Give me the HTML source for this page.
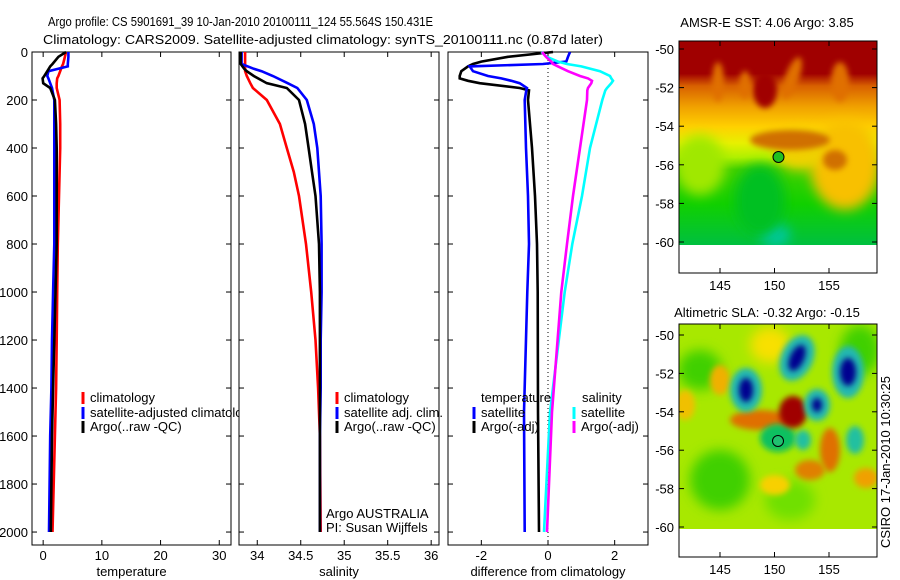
<!DOCTYPE html>
<html><head><meta charset="utf-8">
<style>
body{margin:0;background:#fff;}
svg{display:block;font-family:"Liberation Sans",sans-serif;}
text{font-size:13px;fill:#000;}
</style></head>
<body>
<svg id="c" width="900" height="580" viewBox="0 0 900 580" xmlns="http://www.w3.org/2000/svg">
<defs>
<filter id="bl" x="-50%" y="-50%" width="200%" height="200%"><feGaussianBlur stdDeviation="6"/></filter>
<filter id="bl2" x="-50%" y="-50%" width="200%" height="200%"><feGaussianBlur stdDeviation="3"/></filter>
<clipPath id="m1c"><rect x="679" y="41" width="198" height="204"/></clipPath>
<clipPath id="m2c"><rect x="679" y="324" width="198" height="205"/></clipPath>
<linearGradient id="sstg" x1="0" y1="0" x2="0" y2="1">
<stop offset="0" stop-color="#a00000"/><stop offset="0.16" stop-color="#a00000"/>
<stop offset="0.22" stop-color="#d86000"/><stop offset="0.32" stop-color="#f0a000"/>
<stop offset="0.42" stop-color="#ffd000"/><stop offset="0.5" stop-color="#e8f000"/>
<stop offset="0.57" stop-color="#b0f000"/><stop offset="0.63" stop-color="#40d000"/>
<stop offset="0.8" stop-color="#10d000"/><stop offset="1" stop-color="#00c040"/>
</linearGradient>
</defs>
<text x="48" y="26" textLength="385" lengthAdjust="spacingAndGlyphs">Argo profile: CS 5901691_39 10-Jan-2010 20100111_124 55.564S 150.431E</text>
<text x="43" y="44" textLength="560" lengthAdjust="spacingAndGlyphs">Climatology: CARS2009. Satellite-adjusted climatology: synTS_20100111.nc (0.87d later)</text>
<g id="plots"></g>
<g id="maps">
 <g clip-path="url(#m1c)">
  <rect x="679" y="41" width="198" height="204" fill="url(#sstg)"/>
  <ellipse cx="700" cy="165" rx="25" ry="30" fill="#a0e800" filter="url(#bl)"/>
  <ellipse cx="845" cy="165" rx="35" ry="45" fill="#f8c000" filter="url(#bl)"/>
  <ellipse cx="800" cy="150" rx="25" ry="20" fill="#f0d000" filter="url(#bl)"/>
  <ellipse cx="790" cy="140" rx="40" ry="10" fill="#d07000" filter="url(#bl2)"/>
  <ellipse cx="835" cy="160" rx="12" ry="10" fill="#d07000" filter="url(#bl2)"/>
  <ellipse cx="765" cy="90" rx="12" ry="18" fill="#a00000" filter="url(#bl2)"/>
  <ellipse cx="718" cy="82" rx="6" ry="20" fill="#e07000" filter="url(#bl2)"/>
  <ellipse cx="745" cy="85" rx="6" ry="14" fill="#e07000" filter="url(#bl2)"/>
  <ellipse cx="792" cy="78" rx="7" ry="22" fill="#e07000" filter="url(#bl2)" transform="rotate(20 792 78)"/>
  <ellipse cx="840" cy="82" rx="9" ry="20" fill="#e07000" filter="url(#bl2)"/>
  <ellipse cx="775" cy="235" rx="15" ry="12" fill="#00c8a0" filter="url(#bl)"/>
  <ellipse cx="760" cy="200" rx="25" ry="35" fill="#00c020" filter="url(#bl)"/>
 </g>
 <rect x="679" y="245" width="198" height="28" fill="#fff"/>
 <g clip-path="url(#m2c)">
  <rect x="679" y="324" width="198" height="205" fill="#a8e800"/>
  <ellipse cx="700" cy="370" rx="22" ry="20" fill="#40d000" filter="url(#bl)"/>
  <ellipse cx="720" cy="480" rx="30" ry="30" fill="#40d000" filter="url(#bl)"/>
  <ellipse cx="860" cy="350" rx="20" ry="25" fill="#40d000" filter="url(#bl)"/>
  <ellipse cx="790" cy="500" rx="25" ry="20" fill="#70e000" filter="url(#bl)"/>
  <ellipse cx="770" cy="345" rx="20" ry="18" fill="#f8e000" filter="url(#bl)"/>
  <ellipse cx="720" cy="380" rx="10" ry="15" fill="#f0b000" filter="url(#bl2)"/>
  <ellipse cx="685" cy="405" rx="10" ry="15" fill="#f0c000" filter="url(#bl2)"/>
  <ellipse cx="760" cy="420" rx="30" ry="10" fill="#e07000" filter="url(#bl2)"/>
  <ellipse cx="830" cy="450" rx="10" ry="22" fill="#e07000" filter="url(#bl2)"/>
  <ellipse cx="810" cy="470" rx="15" ry="10" fill="#e08000" filter="url(#bl2)"/>
  <ellipse cx="866" cy="478" rx="12" ry="10" fill="#f0a000" filter="url(#bl2)"/>
  <ellipse cx="775" cy="485" rx="15" ry="10" fill="#f8d000" filter="url(#bl2)"/>
  <ellipse cx="778" cy="438" rx="18" ry="14" fill="#10c060" filter="url(#bl2)"/>
  <ellipse cx="803" cy="440" rx="8" ry="10" fill="#20c0a0" filter="url(#bl2)"/>
  <ellipse cx="855" cy="440" rx="9" ry="14" fill="#20c0a0" filter="url(#bl2)"/>
  <ellipse cx="793" cy="412" rx="14" ry="16" fill="#a00000" filter="url(#bl2)"/>
  <ellipse cx="746" cy="390" rx="16" ry="22" fill="#20b8b0" filter="url(#bl2)"/>
  <ellipse cx="746" cy="390" rx="7" ry="12" fill="#000090" filter="url(#bl2)"/>
  <ellipse cx="797" cy="358" rx="16" ry="24" fill="#20b8b0" filter="url(#bl2)" transform="rotate(25 797 358)"/>
  <ellipse cx="797" cy="358" rx="7" ry="14" fill="#000090" filter="url(#bl2)" transform="rotate(25 797 358)"/>
  <ellipse cx="848" cy="372" rx="16" ry="26" fill="#20b8b0" filter="url(#bl2)"/>
  <ellipse cx="848" cy="372" rx="8" ry="14" fill="#000090" filter="url(#bl2)"/>
  <ellipse cx="817" cy="405" rx="13" ry="16" fill="#20b8b0" filter="url(#bl2)"/>
  <ellipse cx="817" cy="405" rx="5" ry="7" fill="#000090" filter="url(#bl2)"/>
 </g>
 <rect x="679" y="529" width="198" height="28" fill="#fff"/>
 <rect x="679" y="41" width="198" height="232" fill="none" stroke="#000"/>
 <rect x="679" y="324" width="198" height="233" fill="none" stroke="#000"/>
 <circle cx="778.5" cy="157" r="5.5" fill="#20c020" stroke="#000"/>
 <circle cx="778" cy="441" r="5.5" fill="#20c070" stroke="#000"/>
 <text x="767" y="27" text-anchor="middle">AMSR-E SST: 4.06 Argo: 3.85</text>
 <text x="767" y="317" text-anchor="middle">Altimetric SLA: -0.32 Argo: -0.15</text>
 <text transform="translate(890,548) rotate(-90)">CSIRO 17-Jan-2010 10:30:25</text>
 <g id="mapaxes"></g>
</g>
</svg>
<script>
// depth levels (m)
const tDepth = [0,20,50,60,80,100,110,130,150,200,300,400,600,800,1000,1200,1400,1600,1800,2000];
const tClim  = [3.9,3.7,3.4,3.2,2.9,2.6,2.4,2.3,2.3,2.8,2.9,2.9,2.7,2.5,2.4,2.3,2.2,2.0,1.8,1.6];
const tSat   = [4.3,4.3,4.2,4.2,0.9,0.7,0.9,1.2,1.5,1.9,1.9,1.9,1.9,1.9,1.7,1.5,1.4,1.2,1.1,1.0];
const tArgo  = [3.9,2.6,1.6,1.2,0.7,0.2,-0.1,0.0,1.2,2.0,2.2,2.3,2.3,2.3,2.1,1.9,1.7,1.5,1.4,1.3];
const sDepth = [0,50,70,80,100,130,150,200,300,400,500,600,800,1000,1200,1400,1600,2000];
const sClim  = [33.86,33.86,33.86,33.86,33.88,33.92,33.95,34.11,34.26,34.34,34.42,34.48,34.56,34.62,34.67,34.70,34.72,34.73];
const sSat   = [33.82,33.82,33.96,34.05,34.18,34.35,34.46,34.57,34.65,34.69,34.71,34.73,34.74,34.74,34.73,34.73,34.72,34.72];
const sArgo  = [33.81,33.81,33.85,33.88,33.96,34.11,34.34,34.48,34.55,34.59,34.63,34.67,34.71,34.72,34.72,34.72,34.72,34.72];
const dDepth = [0,20,40,50,60,80,100,110,120,130,150,160,200,400,600,800,1000,1500,2000];
const dTempArgo = [0.15,-1.2,-2.0,-2.25,-2.4,-2.6,-2.65,-2.65,-2.4,-2.05,-0.85,-0.57,-0.6,-0.48,-0.39,-0.33,-0.31,-0.3,-0.27];
const dTempSat  = [0.66,0.6,0.55,-0.15,-2.35,-2.25,-1.8,-1.4,-1.1,-0.85,-0.63,-0.65,-0.7,-0.66,-0.6,-0.57,-0.62,-0.72,-0.7];
const dSalSat   = [-0.2,-0.04,0.3,0.57,1.0,1.56,1.86,1.9,1.95,1.9,1.77,1.72,1.63,1.26,1.02,0.73,0.5,0.06,-0.12];
const dSalArgo  = [-0.18,-0.06,0.1,0.15,0.3,0.6,0.96,1.2,1.32,1.3,1.2,1.18,1.17,0.96,0.75,0.57,0.4,0.12,-0.03];
const yTicks = [0,200,400,600,800,1000,1200,1400,1600,1800,2000];
const tTicks = [0,10,20,30];
const sTicks = [34,34.5,35,35.5,36];
const dTicks = [-2,0,2];
const latTicks = [-50,-52,-54,-56,-58,-60];
const lonTicks = [145,150,155];

const NS="http://www.w3.org/2000/svg";
const plots=document.getElementById('plots');
function mk(tag,attrs,parent,txt){const e=document.createElementNS(NS,tag);for(const k in attrs)e.setAttribute(k,attrs[k]);if(txt!==undefined)e.textContent=txt;(parent||plots).appendChild(e);return e;}
const yTop=52, yBot=545;
const yS = d => yTop + d*(yBot-yTop)/2054;
const panels=[
 {x0:32,x1:231,min:-1.9,max:32,ticks:tTicks,label:'temperature',name:'temperature'},
 {x0:239,x1:439,min:33.79,max:36.09,ticks:sTicks,label:'salinity',name:'salinity'},
 {x0:448,x1:648,min:-3,max:3,ticks:dTicks,label:'difference from climatology',name:'difference'}
];
panels.forEach((p,i)=>{
 p.xS = v => p.x0 + (v-p.min)*(p.x1-p.x0)/(p.max-p.min);
 const r=mk('rect',{x:p.x0,y:yTop,width:p.x1-p.x0,height:yBot-yTop,fill:'#fff',stroke:'#000'});
 
 
 p.ticks.forEach(t=>{const x=p.xS(t);
  mk('line',{x1:x,x2:x,y1:yBot,y2:yBot-5,stroke:'#000'});
  mk('line',{x1:x,x2:x,y1:yTop,y2:yTop+5,stroke:'#000'});
  const tl=mk('text',{x:x,y:560,'text-anchor':'middle'},plots,String(t));
  
  
 });
 yTicks.forEach(d=>{const y=yS(d);
  mk('line',{x1:p.x0,x2:p.x0+5,y1:y,y2:y,stroke:'#000'});
  mk('line',{x1:p.x1,x2:p.x1-5,y1:y,y2:y,stroke:'#000'});
  if(i===0){const tl=mk('text',{x:28,y:y+5,'text-anchor':'end'},plots,String(d));
   
   }
 });
 const al=mk('text',{x:(p.x0+p.x1)/2,y:576,'text-anchor':'middle'},plots,p.label);
 
 
});
function line(p,depths,vals,color,name){
 const pts=depths.map((d,k)=>p.xS(vals[k]).toFixed(1)+','+yS(d).toFixed(1)).join(' ');
 const l=mk('polyline',{points:pts,fill:'none',stroke:color,'stroke-width':2.6});
 
 
}
const P=panels;
line(P[0],tDepth,tClim,'#ff0000','temp-climatology-line');
line(P[0],tDepth,tSat,'#0000ff','temp-satellite-line');
line(P[0],tDepth,tArgo,'#000','temp-argo-line');
function legend(x,y,color,txt,name){
 mk('rect',{x:x-1.5,y:y-10,width:3,height:12,fill:color});
 const t=mk('text',{x:x+7,y:y},plots,txt);
 
 
}
legend(83,402,'#ff0000','climatology','legend-temp-climatology');
legend(83,417,'#0000ff','satellite-adjusted climatology','legend-temp-satellite');
legend(83,431,'#000','Argo(..raw -QC)','legend-temp-argo');
// redraw panel 2 background to clip overflowing legend
{mk('rect',{x:239,y:yTop,width:200,height:yBot-yTop,fill:'#fff',stroke:'#000'});
 sTicks.forEach(t=>{const x=P[1].xS(t);mk('line',{x1:x,x2:x,y1:yBot,y2:yBot-5,stroke:'#000'});mk('line',{x1:x,x2:x,y1:yTop,y2:yTop+5,stroke:'#000'});});
 yTicks.forEach(d=>{const y=yS(d);mk('line',{x1:239,x2:244,y1:y,y2:y,stroke:'#000'});mk('line',{x1:439,x2:434,y1:y,y2:y,stroke:'#000'});});}
line(P[1],sDepth,sClim,'#ff0000','sal-climatology-line');
line(P[1],sDepth,sSat,'#0000ff','sal-satellite-line');
line(P[1],sDepth,sArgo,'#000','sal-argo-line');
legend(337,402,'#ff0000','climatology','legend-sal-climatology');
legend(337,417,'#0000ff','satellite adj. clim.','legend-sal-satellite');
legend(337,431,'#000','Argo(..raw -QC)','legend-sal-argo');
{const a=mk('text',{x:326,y:518},plots,'Argo AUSTRALIA');
 const b=mk('text',{x:326,y:532},plots,'PI: Susan Wijffels');}
{const x=P[2].xS(0);const z=mk('line',{x1:x,x2:x,y1:yTop,y2:yBot,stroke:'#000','stroke-dasharray':'1,3'});
 }
line(P[2],dDepth,dTempArgo,'#000','diff-temp-argo-line');
line(P[2],dDepth,dTempSat,'#0000ff','diff-temp-satellite-line');
line(P[2],dDepth,dSalSat,'#00ffff','diff-sal-satellite-line');
line(P[2],dDepth,dSalArgo,'#ff00ff','diff-sal-argo-line');
{const a=mk('text',{x:481,y:402},plots,'temperature');
 const b=mk('text',{x:582,y:402},plots,'salinity');}
legend(474,417,'#0000ff','satellite','legend-diff-temp-satellite');
legend(474,431,'#000','Argo(-adj)','legend-diff-temp-argo');
legend(574,417,'#00ffff','satellite','legend-diff-sal-satellite');
legend(574,431,'#ff00ff','Argo(-adj)','legend-diff-sal-argo');

// map axes
const ma=document.getElementById('mapaxes');
const maps=[{y50:49,y60:242,frameTop:41,frameBot:273,name:'sst'},{y50:335,y60:527,frameTop:324,frameBot:557,name:'sla'}];
const lonX = lon => 720 + (lon-145)*10.9;
maps.forEach(m=>{
 const latY = lat => m.y50 + (-50-lat)*(m.y60-m.y50)/10;
 latTicks.forEach(l=>{const y=latY(l);
  mk('line',{x1:679,x2:684,y1:y,y2:y,stroke:'#000'},ma);
  mk('line',{x1:877,x2:872,y1:y,y2:y,stroke:'#000'},ma);
  const t=mk('text',{x:674,y:y+5,'text-anchor':'end'},ma,String(l));
  
  
 });
 lonTicks.forEach(l=>{const x=lonX(l);
  mk('line',{x1:x,x2:x,y1:m.frameBot,y2:m.frameBot-5,stroke:'#000'},ma);
  mk('line',{x1:x,x2:x,y1:m.frameTop,y2:m.frameTop+5,stroke:'#000'},ma);
  const t=mk('text',{x:x,y:m.frameBot+17,'text-anchor':'middle'},ma,String(l));
  
  
 });
});
</script>
</body></html>
